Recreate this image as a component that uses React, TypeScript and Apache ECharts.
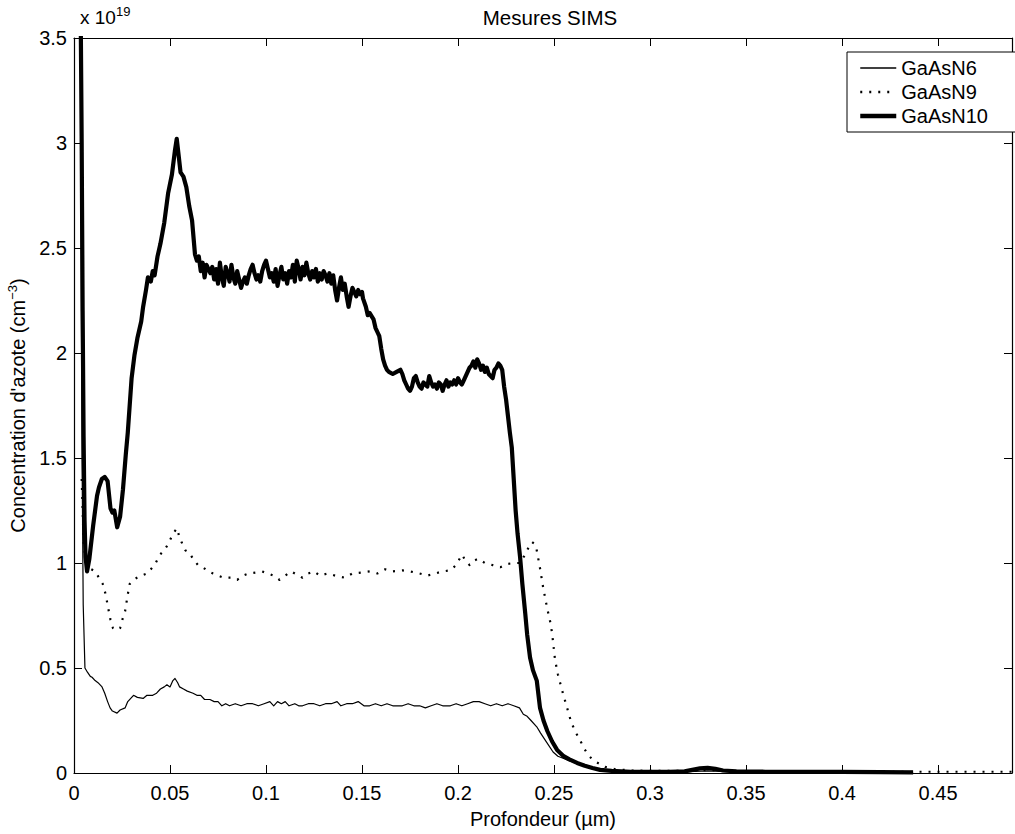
import React, { useEffect, useRef } from "react";
import * as echarts from "echarts";

const FONT = "'Liberation Sans', Arial, Helvetica, sans-serif";

const seriesNames = ["GaAsN6", "GaAsN9", "GaAsN10"];

const xTicks = { min: 0, max: 0.4885, interval: 0.05 };
const yTicks = { min: 0, max: 3.5, interval: 0.5 };

const gaasn6: [number, number][] = [
  [0.0035, 3.0], [0.0042, 1.5], [0.0048, 0.8], [0.0057, 0.5],
  [0.007, 0.48], [0.0085, 0.46], [0.0094, 0.456], [0.011, 0.44], [0.0125, 0.43], [0.0146, 0.41],
  [0.016, 0.38], [0.0175, 0.34], [0.0188, 0.31], [0.02, 0.295], [0.0224, 0.285], [0.024, 0.3],
  [0.0266, 0.31], [0.028, 0.34], [0.031, 0.37], [0.033, 0.36], [0.036, 0.355], [0.038, 0.37],
  [0.041, 0.37], [0.043, 0.38], [0.045, 0.4], [0.047, 0.41], [0.0484, 0.42], [0.05, 0.41],
  [0.0515, 0.44], [0.0526, 0.45], [0.054, 0.43], [0.055, 0.41], [0.057, 0.4], [0.059, 0.39],
  [0.062, 0.38], [0.064, 0.37], [0.066, 0.37], [0.068, 0.35], [0.0708, 0.35], [0.073, 0.34],
  [0.075, 0.34], [0.077, 0.32], [0.079, 0.33], [0.081, 0.32], [0.084, 0.33], [0.087, 0.32],
  [0.09, 0.33], [0.093, 0.33], [0.096, 0.32], [0.099, 0.33], [0.102, 0.34], [0.104, 0.32],
  [0.106, 0.34], [0.108, 0.33], [0.11, 0.34], [0.112, 0.32], [0.115, 0.33], [0.117, 0.32],
  [0.119, 0.32], [0.122, 0.33], [0.125, 0.33], [0.128, 0.32], [0.131, 0.33], [0.134, 0.33],
  [0.137, 0.34], [0.139, 0.32], [0.142, 0.33], [0.145, 0.33], [0.148, 0.34], [0.151, 0.32],
  [0.154, 0.32], [0.157, 0.33], [0.16, 0.32], [0.163, 0.33], [0.166, 0.32], [0.169, 0.32],
  [0.171, 0.32], [0.174, 0.33], [0.177, 0.32], [0.18, 0.32], [0.183, 0.31], [0.186, 0.32],
  [0.189, 0.33], [0.192, 0.32], [0.196, 0.32], [0.199, 0.33], [0.202, 0.32], [0.205, 0.33],
  [0.208, 0.34], [0.211, 0.34], [0.214, 0.33], [0.217, 0.32], [0.22, 0.33], [0.223, 0.32],
  [0.226, 0.33], [0.229, 0.32], [0.232, 0.31], [0.234, 0.28], [0.236, 0.27], [0.238, 0.25],
  [0.241, 0.22], [0.243, 0.19], [0.246, 0.148], [0.2495, 0.1], [0.252, 0.08], [0.2547, 0.07],
  [0.258, 0.058], [0.262, 0.048], [0.266, 0.035], [0.27, 0.024], [0.274, 0.015], [0.28, 0.01],
  [0.29, 0.007], [0.3, 0.006], [0.32, 0.006], [0.33, 0.01], [0.34, 0.007], [0.36, 0.005],
  [0.38, 0.005], [0.4, 0.004], [0.42, 0.004], [0.437, 0.003],
];

const gaasn9: [number, number][] = [
  [0.004, 1.4], [0.005, 1.1], [0.0068, 0.955], [0.009, 0.97], [0.011, 0.96], [0.013, 0.93],
  [0.015, 0.9], [0.0165, 0.85], [0.0177, 0.79], [0.019, 0.73], [0.0203, 0.69], [0.022, 0.68],
  [0.024, 0.69], [0.0255, 0.74], [0.0266, 0.77], [0.028, 0.85], [0.029, 0.9], [0.031, 0.92],
  [0.0328, 0.93], [0.035, 0.94], [0.038, 0.95], [0.04, 0.97], [0.0425, 1.0], [0.0448, 1.04],
  [0.047, 1.06], [0.049, 1.09], [0.0516, 1.14], [0.0536, 1.165], [0.055, 1.12], [0.056, 1.1],
  [0.058, 1.06], [0.06, 1.05], [0.062, 1.02], [0.0646, 0.99], [0.067, 0.98], [0.07, 0.96],
  [0.0724, 0.95], [0.075, 0.94], [0.078, 0.93], [0.082, 0.93], [0.085, 0.92], [0.088, 0.94],
  [0.091, 0.95], [0.095, 0.955], [0.098, 0.96], [0.101, 0.95], [0.104, 0.94], [0.107, 0.92],
  [0.11, 0.94], [0.113, 0.96], [0.115, 0.95], [0.119, 0.93], [0.122, 0.95], [0.125, 0.96],
  [0.128, 0.94], [0.132, 0.95], [0.136, 0.94], [0.141, 0.93], [0.145, 0.95], [0.15, 0.955],
  [0.154, 0.96], [0.158, 0.95], [0.162, 0.97], [0.166, 0.96], [0.171, 0.965], [0.175, 0.96],
  [0.18, 0.95], [0.184, 0.94], [0.188, 0.95], [0.192, 0.96], [0.196, 0.965], [0.199, 0.99],
  [0.202, 1.04], [0.204, 1.01], [0.206, 0.99], [0.208, 1.01], [0.2105, 1.02], [0.214, 1.0],
  [0.218, 0.99], [0.222, 0.98], [0.2255, 0.995], [0.229, 1.0], [0.232, 1.0], [0.235, 1.04],
  [0.237, 1.08], [0.2385, 1.1], [0.24, 1.09], [0.241, 1.06], [0.2427, 0.975], [0.2443, 0.885],
  [0.2463, 0.79], [0.248, 0.72], [0.249, 0.665], [0.2505, 0.54], [0.252, 0.47], [0.254, 0.4],
  [0.2568, 0.31], [0.259, 0.24], [0.2615, 0.19], [0.2635, 0.157], [0.2655, 0.12], [0.2677, 0.086],
  [0.27, 0.065], [0.272, 0.052], [0.2766, 0.029], [0.282, 0.018], [0.29, 0.012], [0.3, 0.01],
  [0.32, 0.01], [0.33, 0.014], [0.34, 0.01], [0.36, 0.008], [0.38, 0.007], [0.4, 0.006],
  [0.42, 0.006], [0.44, 0.006], [0.46, 0.006], [0.4885, 0.006],
];

const gaasn10: [number, number][] = [
  [0.0035, 3.6], [0.004, 3.0], [0.0045, 2.2], [0.005, 1.6], [0.0055, 1.2], [0.006, 1.03],
  [0.0068, 0.96], [0.008, 1.02], [0.01, 1.18], [0.012, 1.32], [0.013, 1.36], [0.0145, 1.4],
  [0.016, 1.41], [0.0175, 1.39], [0.019, 1.26], [0.02, 1.24], [0.021, 1.25], [0.0225, 1.17],
  [0.024, 1.22], [0.0255, 1.35], [0.027, 1.52], [0.028, 1.62], [0.03, 1.88], [0.0315, 1.99],
  [0.033, 2.07], [0.035, 2.15], [0.036, 2.22], [0.0375, 2.3], [0.0385, 2.36], [0.04, 2.34],
  [0.041, 2.39], [0.042, 2.37], [0.0435, 2.46], [0.045, 2.52], [0.047, 2.62], [0.049, 2.76],
  [0.051, 2.85], [0.0525, 2.96], [0.0535, 3.02], [0.0545, 2.94], [0.0555, 2.86], [0.057, 2.84],
  [0.0585, 2.79], [0.06, 2.7], [0.0615, 2.63], [0.063, 2.47], [0.064, 2.44], [0.065, 2.46],
  [0.066, 2.39], [0.067, 2.43], [0.068, 2.36], [0.069, 2.42], [0.07, 2.4], [0.071, 2.38],
  [0.072, 2.41], [0.073, 2.35], [0.074, 2.4], [0.075, 2.33], [0.076, 2.43], [0.077, 2.36],
  [0.078, 2.32], [0.079, 2.41], [0.08, 2.38], [0.081, 2.34], [0.082, 2.42], [0.083, 2.36],
  [0.084, 2.33], [0.085, 2.39], [0.086, 2.35], [0.087, 2.31], [0.088, 2.34], [0.089, 2.36],
  [0.09, 2.33], [0.091, 2.37], [0.092, 2.4], [0.093, 2.42], [0.094, 2.38], [0.095, 2.35],
  [0.096, 2.37], [0.097, 2.34], [0.098, 2.39], [0.099, 2.42], [0.1, 2.44], [0.101, 2.4],
  [0.102, 2.36], [0.103, 2.38], [0.104, 2.34], [0.105, 2.4], [0.106, 2.32], [0.107, 2.37],
  [0.108, 2.41], [0.109, 2.35], [0.11, 2.38], [0.111, 2.33], [0.112, 2.39], [0.113, 2.36],
  [0.114, 2.42], [0.115, 2.34], [0.116, 2.44], [0.117, 2.4], [0.118, 2.35], [0.119, 2.41],
  [0.12, 2.37], [0.121, 2.43], [0.122, 2.38], [0.123, 2.35], [0.124, 2.39], [0.125, 2.36],
  [0.126, 2.4], [0.127, 2.34], [0.128, 2.38], [0.129, 2.35], [0.13, 2.39], [0.131, 2.37],
  [0.132, 2.34], [0.133, 2.38], [0.134, 2.33], [0.135, 2.37], [0.136, 2.3], [0.137, 2.25],
  [0.138, 2.31], [0.139, 2.36], [0.14, 2.3], [0.141, 2.33], [0.142, 2.27], [0.143, 2.22],
  [0.144, 2.27], [0.145, 2.31], [0.146, 2.29], [0.147, 2.27], [0.148, 2.3], [0.149, 2.28],
  [0.15, 2.29], [0.1505, 2.26], [0.152, 2.22], [0.153, 2.18], [0.154, 2.19], [0.156, 2.16],
  [0.157, 2.12], [0.158, 2.1], [0.159, 2.08], [0.16, 2.02], [0.161, 1.97], [0.162, 1.94],
  [0.163, 1.92], [0.164, 1.91], [0.166, 1.9], [0.168, 1.91], [0.17, 1.92], [0.171, 1.9],
  [0.172, 1.87], [0.173, 1.85], [0.174, 1.83], [0.175, 1.82], [0.176, 1.84], [0.177, 1.88],
  [0.178, 1.89], [0.179, 1.86], [0.18, 1.84], [0.181, 1.83], [0.182, 1.86], [0.183, 1.85],
  [0.184, 1.84], [0.185, 1.89], [0.186, 1.86], [0.187, 1.84], [0.188, 1.85], [0.189, 1.83],
  [0.19, 1.86], [0.191, 1.85], [0.192, 1.82], [0.193, 1.85], [0.194, 1.87], [0.195, 1.84],
  [0.196, 1.86], [0.197, 1.85], [0.198, 1.87], [0.199, 1.85], [0.2, 1.88], [0.201, 1.86],
  [0.202, 1.85], [0.203, 1.87], [0.204, 1.89], [0.205, 1.91], [0.206, 1.93], [0.207, 1.94],
  [0.208, 1.96], [0.209, 1.93], [0.21, 1.97], [0.211, 1.95], [0.212, 1.92], [0.213, 1.94],
  [0.214, 1.91], [0.215, 1.93], [0.216, 1.9], [0.217, 1.89], [0.218, 1.88], [0.219, 1.92],
  [0.22, 1.93], [0.221, 1.95], [0.222, 1.94], [0.223, 1.92], [0.224, 1.84], [0.225, 1.78],
  [0.226, 1.7], [0.227, 1.62], [0.228, 1.55], [0.229, 1.4], [0.23, 1.25], [0.231, 1.14],
  [0.2323, 1.03], [0.2335, 0.9], [0.235, 0.76], [0.236, 0.66], [0.2375, 0.55], [0.239, 0.49],
  [0.241, 0.44], [0.2427, 0.31], [0.2445, 0.25], [0.2465, 0.2], [0.249, 0.15], [0.2516, 0.11],
  [0.255, 0.08], [0.258, 0.065], [0.262, 0.048], [0.266, 0.035], [0.27, 0.024], [0.274, 0.015],
  [0.28, 0.01], [0.29, 0.006], [0.3, 0.005], [0.31, 0.006], [0.318, 0.008], [0.322, 0.015],
  [0.326, 0.022], [0.33, 0.024], [0.334, 0.02], [0.338, 0.012], [0.345, 0.008], [0.36, 0.006],
  [0.38, 0.005], [0.4, 0.005], [0.42, 0.004], [0.437, 0.003],
];

const seriesData = [gaasn6, gaasn9, gaasn10];
const lineWidths = [1.2, 2.2, 4.2];
const legendWidths = [1.5, 2.5, 4.5];
const lineTypes: any[] = ["solid", [2, 7], "solid"];

export default function App() {
  const ref = useRef<HTMLDivElement>(null);
  useEffect(() => {
    if (!ref.current) return;
    const chart = echarts.init(ref.current, undefined, { renderer: "svg" });
    const axisCommon = {
      type: "value" as const,
      axisLine: { show: true, onZero: false, lineStyle: { color: "#000", width: 1.2 } },
      axisTick: { show: true, inside: true, length: 8, lineStyle: { color: "#000", width: 1 } },
      splitLine: { show: false },
    };
    chart.setOption({
      animation: false,
      backgroundColor: "#fff",
      textStyle: { fontFamily: FONT, color: "#000" },
      grid: { left: 74, right: 3, top: 38, bottom: 61, containLabel: false, outerBoundsMode: "none" },
      xAxis: [
        {
          ...axisCommon,
          position: "bottom",
          min: xTicks.min,
          max: xTicks.max,
          interval: xTicks.interval,
          axisLabel: { fontSize: 20, color: "#000", margin: 10, fontFamily: FONT, showMaxLabel: false },
          name: "Profondeur (\u00b5m)",
          nameLocation: "middle",
          nameGap: 36,
          nameTextStyle: { fontSize: 20, color: "#000", fontFamily: FONT },
        },
        {
          ...axisCommon,
          position: "top",
          min: xTicks.min,
          max: xTicks.max,
          interval: xTicks.interval,
          axisLabel: { show: false },
        },
      ],
      yAxis: [
        {
          ...axisCommon,
          position: "left",
          min: yTicks.min,
          max: yTicks.max,
          interval: yTicks.interval,
          axisLabel: { fontSize: 20, color: "#000", margin: 7, fontFamily: FONT },
          name: "{a|Concentration d'azote (cm}{s|\u22123}{a|)}",
          nameLocation: "middle",
          nameGap: 35,
          nameTextStyle: {
            fontFamily: FONT,
            rich: {
              a: { fontSize: 20, color: "#000", fontFamily: FONT },
              s: { fontSize: 13, color: "#000", fontFamily: FONT, padding: [0, 0, 12, 0] },
            },
          },
        },
        {
          ...axisCommon,
          position: "right",
          min: yTicks.min,
          max: yTicks.max,
          interval: yTicks.interval,
          axisLabel: { show: false },
        },
      ],
      legend: {
        orient: "vertical",
        left: 847,
        top: 52,
        padding: [6, 30, 6, 11],
        itemWidth: 36,
        itemHeight: 14,
        itemGap: 4,
        borderColor: "#000",
        borderWidth: 1,
        backgroundColor: "#fff",
        itemStyle: { color: "rgba(0,0,0,0)", borderColor: "rgba(0,0,0,0)", borderWidth: 0 },
        textStyle: { fontSize: 20, color: "#000", fontFamily: FONT },
        data: seriesNames.map((name, i) => ({
          name,
          lineStyle: { width: legendWidths[i], color: "#000", type: lineTypes[i] },
        })),
      },
      graphic: [
        {
          type: "text",
          x: 550,
          y: 17,
          style: {
            text: "Mesures SIMS",
            fontSize: 20.5,
            fontFamily: FONT,
            fill: "#000",
            align: "center",
            verticalAlign: "middle",
          },
        },
        {
          type: "text",
          x: 80,
          y: 29,
          style: {
            text: "{a|x 10}{s|19}",
            fontFamily: FONT,
            fill: "#000",
            align: "left",
            verticalAlign: "bottom",
            rich: {
              a: { fontSize: 19, fontFamily: FONT, fill: "#000" },
              s: { fontSize: 13, fontFamily: FONT, fill: "#000", padding: [0, 0, 11, 0] },
            },
          },
        },
      ],
      series: seriesNames.map((name, i) => ({
        name,
        type: "line",
        data: seriesData[i],
        showSymbol: false,
        symbol: "none",
        clip: true,
        xAxisIndex: 0,
        yAxisIndex: 0,
        lineStyle: { color: "#000", width: lineWidths[i], type: lineTypes[i], cap: "butt", join: "round" },
        itemStyle: { color: "#000" },
      })),
    });
    return () => chart.dispose();
  }, []);
  return (
    <div
      ref={ref}
      style={{ position: "fixed", left: 0, top: 0, width: 1015, height: 834, background: "#fff" }}
    />
  );
}
